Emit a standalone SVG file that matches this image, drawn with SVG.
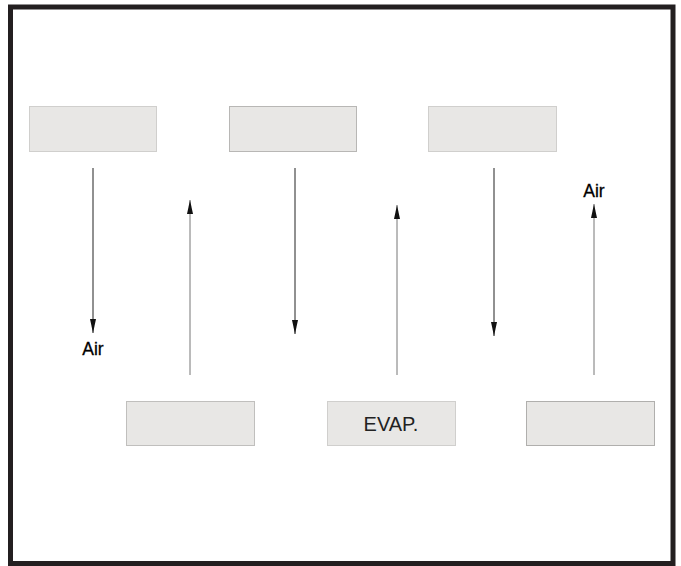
<svg xmlns="http://www.w3.org/2000/svg" width="681" height="566" viewBox="0 0 681 566">
<defs>
<marker id="ah" viewBox="0 0 14 6" refX="14" refY="3" markerWidth="14" markerHeight="6" markerUnits="userSpaceOnUse" orient="auto">
<path d="M0,0 L14,3 L0,6 Z" fill="#111"/>
</marker>
</defs>
<style>
.box{fill:#e8e7e5;stroke:#d0cfcd;stroke-width:1}
.dn{stroke:#222;stroke-width:1;fill:none}
.up{stroke:#777;stroke-width:1;fill:none}
.lbl{font-family:"Liberation Sans",Arial,sans-serif;font-size:17.5px;fill:#000;stroke:#000;stroke-width:0.3}
.evap{font-family:"Liberation Sans",Arial,sans-serif;font-size:20px;fill:#222}
</style>
<rect x="0" y="0" width="681" height="566" fill="#fff"/>
<rect id="frame" x="10.5" y="7" width="662.5" height="556.5" fill="none" stroke="#231f20" stroke-width="5"/>
<g id="connectors">
<line class="dn" x1="93" y1="168" x2="93" y2="333" marker-end="url(#ah)"/>
<line class="up" x1="190" y1="375" x2="190" y2="200" marker-end="url(#ah)"/>
<line class="dn" x1="295" y1="168" x2="295" y2="334" marker-end="url(#ah)"/>
<line class="up" x1="397" y1="375" x2="397" y2="205" marker-end="url(#ah)"/>
<line class="dn" x1="494" y1="168" x2="494" y2="336" marker-end="url(#ah)"/>
<line class="up" x1="594" y1="375" x2="594" y2="204" marker-end="url(#ah)"/>
</g>
<g id="top1"><rect class="box" x="29.5" y="106.5" width="127" height="45"/></g>
<g id="top2"><rect class="box" x="229.5" y="106.5" width="127" height="45" style="stroke:#b8b7b5"/></g>
<g id="top3"><rect class="box" x="428.5" y="106.5" width="128" height="45"/></g>
<g id="bot1"><rect class="box" x="126.5" y="401.5" width="128" height="44" style="stroke:#c0bfbd"/></g>
<g id="evap"><rect class="box" x="327.5" y="401.5" width="128" height="44"/><text class="evap" x="391" y="431" text-anchor="middle">EVAP.</text></g>
<g id="bot3"><rect class="box" x="526.5" y="401.5" width="128" height="44" style="stroke:#b0afad"/></g>
<g id="labels">
<text class="lbl" x="93" y="355" text-anchor="middle">Air</text>
<text class="lbl" x="594" y="197" text-anchor="middle">Air</text>
</g>
</svg>
